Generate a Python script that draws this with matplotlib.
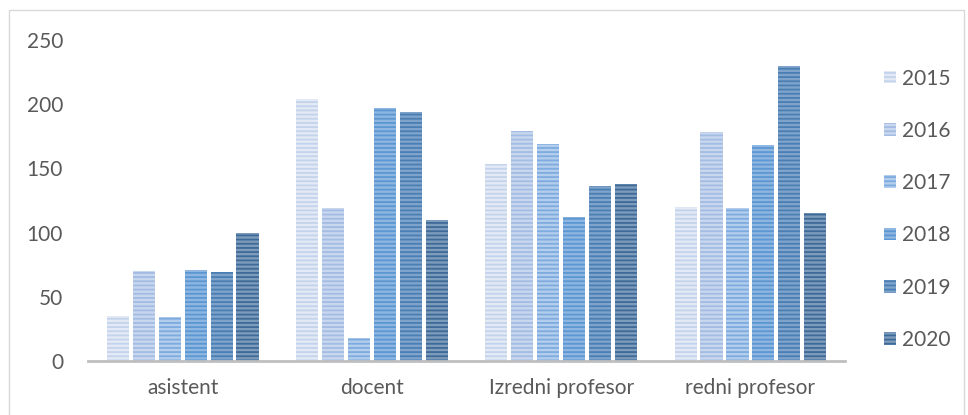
import numpy as np
import matplotlib.pyplot as plt
from matplotlib.patches import Rectangle

###############################################################################

categories = ['asistent', 'docent', 'Izredni profesor', 'redni profesor']
years = ['2015', '2016', '2017', '2018', '2019', '2020']

# values per year, one entry per category
v2015 = [35, 204, 153, 120]
v2016 = [70, 119, 179, 178]
v2017 = [34, 18, 169, 119]
v2018 = [71, 197, 112, 168]
v2019 = [69, 194, 136, 230]
v2020 = [100, 110, 138, 115]
series = [v2015, v2016, v2017, v2018, v2019, v2020]

# (face, stripe) colours, light to dark
face_cols = ['#e3eaf6', '#c9d7ee', '#b3cdec', '#8fb6e0', '#7fa3cb', '#7d9bbb']
stripe_cols = ['#c3d3ec', '#a3bce3', '#7eabdf', '#5b97d2', '#4a7fb4', '#3e6a98']

###############################################################################

plt.rcParams['font.family'] = ['Lato', 'DejaVu Sans']
plt.rcParams['hatch.linewidth'] = 1.3
txtcol = '#595959'

fig = plt.figure(figsize=(9.68, 4.15), dpi=100)
ax = fig.add_axes([0.091, 0.130, 0.782, 0.774])

x = np.arange(len(categories))
step = 0.137
width = 0.117
handles = []
for i, vals in enumerate(series):
    b = ax.bar(x + (i - 2.5) * step, vals, width, color=face_cols[i],
               edgecolor=stripe_cols[i], hatch='----', linewidth=0,
               label=years[i], zorder=2)
    handles.append(b)

ax.set_xlim(-0.5, 3.5)
ax.set_ylim(0, 250)
ax.set_yticks(range(0, 251, 50))
ax.set_xticks(x)
ax.set_xticklabels(categories)
ax.tick_params(length=0, labelsize=15, colors=txtcol)
ax.tick_params(axis='x', pad=12)
ax.tick_params(axis='y', pad=18)
for s in ['top', 'right', 'left']:
    ax.spines[s].set_visible(False)
ax.spines['bottom'].set_color('#bfbfbf')
ax.spines['bottom'].set_linewidth(2)
ax.spines['bottom'].set_zorder(3)

leg = fig.legend(handles=handles, loc='upper left', bbox_to_anchor=(0.905, 0.855),
                 frameon=False, fontsize=15, labelcolor=txtcol,
                 handlelength=0.55, handleheight=0.55, handletextpad=0.3,
                 labelspacing=1.55, borderaxespad=0)

# outer chart border
fig.patches.append(Rectangle((9 / 968, -0.1), 955 / 968, 1.1 - 10 / 415,
                             transform=fig.transFigure, fill=False,
                             edgecolor='#d9d9d9', linewidth=1))

fig.savefig('out.png', dpi=100)
